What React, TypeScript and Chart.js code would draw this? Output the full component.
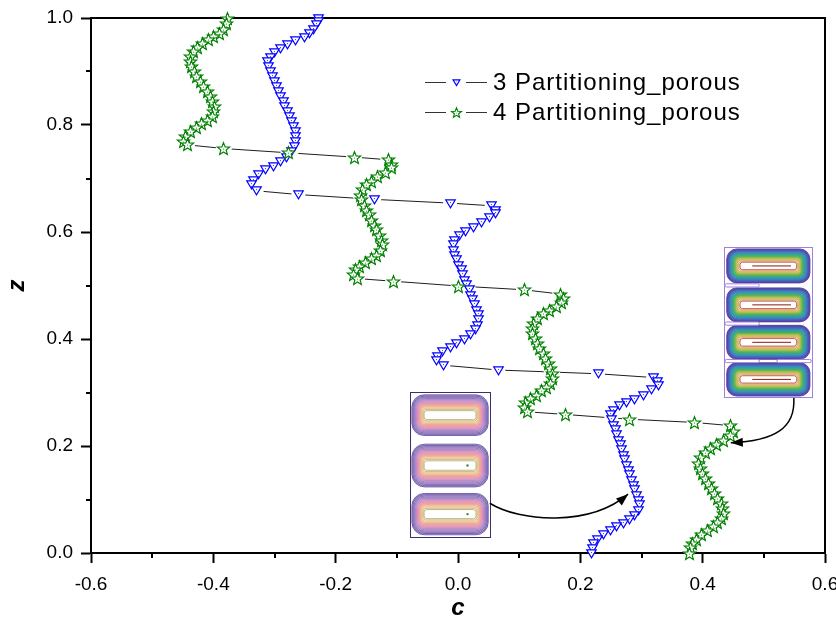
import { useEffect, useRef } from "react";
import { Chart, registerables } from "chart.js";

Chart.register(...registerables);

type Pt = [number, number]; // [c, z]

// ---- 3 Partitioning_porous ----
const p3Upper: Pt[] = [
  [-0.228, 1.0], [-0.228, 0.993], [-0.231, 0.987], [-0.236, 0.978], [-0.242, 0.971],
  [-0.251, 0.964], [-0.265, 0.958], [-0.279, 0.951], [-0.291, 0.943], [-0.3, 0.935],
  [-0.307, 0.927], [-0.311, 0.918], [-0.31, 0.909], [-0.307, 0.9], [-0.304, 0.89],
  [-0.3, 0.881], [-0.297, 0.872], [-0.293, 0.862], [-0.29, 0.853], [-0.286, 0.844],
  [-0.283, 0.834], [-0.279, 0.825], [-0.275, 0.816], [-0.272, 0.806], [-0.269, 0.797],
  [-0.266, 0.787], [-0.265, 0.778], [-0.265, 0.769], [-0.268, 0.759], [-0.272, 0.75],
  [-0.28, 0.74], [-0.29, 0.731], [-0.302, 0.723], [-0.314, 0.716], [-0.326, 0.708],
  [-0.335, 0.697], [-0.337, 0.688], [-0.329, 0.677],
];
const p3StepA: Pt[] = [[-0.261, 0.67], [-0.137, 0.661], [-0.013, 0.654]];
const p3Middle: Pt[] = [
  [0.055, 0.649], [0.062, 0.641], [0.061, 0.635], [0.051, 0.627], [0.039, 0.617],
  [0.025, 0.609], [0.012, 0.601], [0.002, 0.593], [-0.005, 0.585], [-0.008, 0.576],
  [-0.008, 0.566], [-0.005, 0.557], [-0.002, 0.548], [0.001, 0.538], [0.005, 0.529],
  [0.008, 0.52], [0.011, 0.51], [0.014, 0.501], [0.018, 0.492], [0.021, 0.482],
  [0.024, 0.473], [0.027, 0.464], [0.031, 0.454], [0.033, 0.445], [0.034, 0.436],
  [0.032, 0.426], [0.028, 0.417], [0.021, 0.409], [0.01, 0.399], [-0.002, 0.392],
  [-0.013, 0.384], [-0.025, 0.376], [-0.034, 0.368], [-0.035, 0.359], [-0.024, 0.351],
];
const p3StepB: Pt[] = [[0.066, 0.342], [0.229, 0.335]];
const p3Lower: Pt[] = [
  [0.319, 0.328], [0.326, 0.32], [0.327, 0.314], [0.317, 0.305], [0.304, 0.295],
  [0.289, 0.287], [0.276, 0.281], [0.264, 0.275], [0.254, 0.267], [0.25, 0.258],
  [0.251, 0.249], [0.254, 0.239], [0.257, 0.23], [0.259, 0.221], [0.262, 0.211],
  [0.265, 0.202], [0.268, 0.193], [0.27, 0.183], [0.273, 0.174], [0.276, 0.164],
  [0.278, 0.155], [0.281, 0.146], [0.284, 0.136], [0.287, 0.127], [0.289, 0.118],
  [0.292, 0.108], [0.295, 0.099], [0.296, 0.09], [0.295, 0.08], [0.289, 0.071],
  [0.281, 0.062], [0.27, 0.056], [0.259, 0.049], [0.249, 0.042], [0.238, 0.034],
  [0.228, 0.026], [0.222, 0.017], [0.22, 0.009], [0.219, 0.0],
];

// ---- 4 Partitioning_porous ----
const p4First: Pt[] = [
  [-0.377, 1.0], [-0.379, 0.989], [-0.383, 0.979], [-0.39, 0.971], [-0.399, 0.965],
  [-0.408, 0.959], [-0.417, 0.953], [-0.426, 0.945], [-0.432, 0.937], [-0.437, 0.928],
  [-0.438, 0.918], [-0.435, 0.909], [-0.431, 0.9], [-0.427, 0.89], [-0.421, 0.881],
  [-0.416, 0.872], [-0.41, 0.862], [-0.405, 0.853], [-0.401, 0.844], [-0.398, 0.834],
  [-0.399, 0.825], [-0.402, 0.816], [-0.409, 0.808], [-0.419, 0.802], [-0.428, 0.796],
  [-0.438, 0.787], [-0.446, 0.778], [-0.449, 0.769], [-0.443, 0.763],
];
const p4StepA: Pt[] = [[-0.383, 0.756], [-0.277, 0.748], [-0.17, 0.74]];
const p4Second: Pt[] = [
  [-0.114, 0.735], [-0.108, 0.727], [-0.109, 0.72], [-0.119, 0.712], [-0.131, 0.704],
  [-0.141, 0.694], [-0.149, 0.688], [-0.156, 0.679], [-0.159, 0.669], [-0.157, 0.66],
  [-0.153, 0.65], [-0.149, 0.641], [-0.145, 0.632], [-0.141, 0.622], [-0.137, 0.613],
  [-0.133, 0.604], [-0.128, 0.594], [-0.125, 0.585], [-0.124, 0.576], [-0.127, 0.566],
  [-0.134, 0.557], [-0.142, 0.55], [-0.152, 0.543], [-0.161, 0.536], [-0.168, 0.529],
  [-0.171, 0.52], [-0.165, 0.513],
];
const p4StepB: Pt[] = [[-0.106, 0.508], [0.001, 0.499], [0.108, 0.492]];
const p4Third: Pt[] = [
  [0.167, 0.484], [0.172, 0.476], [0.17, 0.468], [0.161, 0.46], [0.15, 0.453],
  [0.14, 0.447], [0.13, 0.439], [0.123, 0.429], [0.121, 0.42], [0.122, 0.411],
  [0.126, 0.401], [0.13, 0.392], [0.134, 0.383], [0.139, 0.373], [0.143, 0.364],
  [0.148, 0.355], [0.152, 0.345], [0.154, 0.336], [0.155, 0.327], [0.152, 0.317],
  [0.145, 0.31], [0.137, 0.303], [0.128, 0.295], [0.119, 0.289], [0.111, 0.281],
  [0.108, 0.272], [0.113, 0.264],
];
const p4StepC: Pt[] = [[0.175, 0.259], [0.281, 0.25], [0.387, 0.244]];
const p4Fourth: Pt[] = [
  [0.446, 0.238], [0.45, 0.228], [0.445, 0.219], [0.434, 0.211], [0.423, 0.203],
  [0.412, 0.196], [0.404, 0.187], [0.397, 0.178], [0.394, 0.168], [0.397, 0.158],
  [0.4, 0.149], [0.404, 0.14], [0.409, 0.13], [0.415, 0.121], [0.42, 0.112],
  [0.425, 0.102], [0.43, 0.093], [0.433, 0.084], [0.434, 0.074], [0.431, 0.065],
  [0.425, 0.057], [0.417, 0.049], [0.408, 0.042], [0.398, 0.034], [0.39, 0.026],
  [0.384, 0.018], [0.38, 0.01], [0.379, 0.0],
];

const xTickValues = [-0.6, -0.4, -0.2, 0, 0.2, 0.4, 0.6];
const xMinorValues = [-0.5, -0.3, -0.1, 0.1, 0.3, 0.5];
const yTickValues = [0, 0.2, 0.4, 0.6, 0.8, 1.0];
const yMinorValues = [0.1, 0.3, 0.5, 0.7, 0.9];
const seriesLabels = ["3 Partitioning_porous", "4 Partitioning_porous"];
const xTitle = "c";
const yTitle = "z";

const FONT = "'Liberation Sans', Arial, Helvetica, sans-serif";

// Inset flow-field pictures, placed in axis units
const leftInset = { c0: -0.078, c1: 0.052, z0: 0.301, z1: 0.03 };
const rightInset = { c0: 0.435, c1: 0.579, z0: 0.572, z1: 0.292 };

// contour levels, outermost first: [line colour, fill strength]
const warmLevels: [string, number][] = [
  ["#5a4898", 0.45], ["#6a52a6", 0.48], ["#7b5eb2", 0.5], ["#8e6cbb", 0.54], ["#a478c0", 0.58],
  ["#bb82bf", 0.62], ["#d088b6", 0.66], ["#e48ea8", 0.7], ["#f0969a", 0.72], ["#f4a28a", 0.62],
  ["#eab27c", 0.3], ["#d6b872", 0.1], ["#c2b06a", 0.04],
];
const coolLevels: [string, number][] = [
  ["#4a2f90", 0.8], ["#4540a8", 0.8], ["#3b57b8", 0.8], ["#3270bb", 0.8], ["#2a88b0", 0.8],
  ["#27999a", 0.8], ["#2fa27a", 0.8], ["#46a954", 0.8], ["#6db244", 0.8], ["#9bbb45", 0.78],
  ["#c2bd52", 0.7], ["#d7ad5c", 0.45], ["#e09a66", 0.15],
];

const toPts = (arr: Pt[]) => arr.map(([c, z]) => ({ x: c, y: z }));
const series3 = toPts([...p3Upper, ...p3StepA, ...p3Middle, ...p3StepB, ...p3Lower]);
const series4 = toPts([...p4First, ...p4StepA, ...p4Second, ...p4StepB, ...p4Third, ...p4StepC, ...p4Fourth]);

function tint(hex: string, t: number) {
  const n = parseInt(hex.slice(1), 16);
  const r = (n >> 16) & 255, g = (n >> 8) & 255, b = n & 255;
  const m = (v: number) => Math.round(255 - (255 - v) * t);
  return `rgb(${m(r)},${m(g)},${m(b)})`;
}

function roundedPath(ctx: CanvasRenderingContext2D, x: number, y: number, w: number, h: number, r: number) {
  const rr = Math.max(0, Math.min(r, w / 2, h / 2));
  ctx.beginPath();
  ctx.moveTo(x + rr, y);
  ctx.lineTo(x + w - rr, y);
  ctx.arcTo(x + w, y, x + w, y + rr, rr);
  ctx.lineTo(x + w, y + h - rr);
  ctx.arcTo(x + w, y + h, x + w - rr, y + h, rr);
  ctx.lineTo(x + rr, y + h);
  ctx.arcTo(x, y + h, x, y + h - rr, rr);
  ctx.lineTo(x, y + rr);
  ctx.arcTo(x, y, x + rr, y, rr);
  ctx.closePath();
}

function contourCell(
  ctx: CanvasRenderingContext2D, x: number, y: number, w: number, h: number,
  levels: [string, number][], coreColor: string,
) {
  const n = levels.length;
  const wi = w * 0.68, hi = h * 0.22;
  const dx = (w - wi) / 2 / n, dy = (h - hi) / 2 / n;
  for (let i = 0; i <= n; i++) {
    const xx = x + i * dx, yy = y + i * dy, ww = w - 2 * i * dx, hh = h - 2 * i * dy;
    const r = Math.max(2.5, h * 0.3 - i * dy * 0.7);
    roundedPath(ctx, xx, yy, ww, hh, r);
    if (i < n) {
      ctx.fillStyle = tint(levels[i][0], levels[i][1]);
      ctx.fill();
      ctx.strokeStyle = levels[i][0];
    } else {
      ctx.fillStyle = "#fff";
      ctx.fill();
      ctx.strokeStyle = coreColor;
    }
    ctx.lineWidth = 0.8;
    ctx.stroke();
  }
}

function arrow(ctx: CanvasRenderingContext2D, p: number[][]) {
  const [a, b, c, d] = p;
  ctx.beginPath();
  ctx.moveTo(a[0], a[1]);
  ctx.bezierCurveTo(b[0], b[1], c[0], c[1], d[0], d[1]);
  ctx.strokeStyle = "#000";
  ctx.lineWidth = 1.5;
  ctx.stroke();
  const ang = Math.atan2(d[1] - c[1], d[0] - c[0]);
  const L = 12, W = 4.5;
  ctx.beginPath();
  ctx.moveTo(d[0], d[1]);
  ctx.lineTo(d[0] - L * Math.cos(ang) + W * Math.sin(ang), d[1] - L * Math.sin(ang) - W * Math.cos(ang));
  ctx.lineTo(d[0] - L * Math.cos(ang) - W * Math.sin(ang), d[1] - L * Math.sin(ang) + W * Math.cos(ang));
  ctx.closePath();
  ctx.fillStyle = "#000";
  ctx.fill();
}

function triangleMarker(scale: number) {
  const s = Math.ceil(14 * scale) | 1;
  const cv = document.createElement("canvas");
  cv.width = s; cv.height = s;
  const g = cv.getContext("2d")!;
  const c = s / 2;
  const hw = 4.8 * scale, top = 3.7 * scale, bot = 4.4 * scale;
  g.beginPath();
  g.moveTo(c - hw, c - top);
  g.lineTo(c + hw, c - top);
  g.lineTo(c, c + bot);
  g.closePath();
  g.fillStyle = "#fff";
  g.fill();
  g.strokeStyle = "#0000ff";
  g.lineWidth = 1.15;
  g.stroke();
  g.fillStyle = "#3030ff";
  g.beginPath();
  g.arc(c, c - 0.9 * scale, 0.6 * scale, 0, Math.PI * 2);
  g.fill();
  return cv;
}

function starMarker(scale: number) {
  const s = Math.ceil(16 * scale) | 1;
  const cv = document.createElement("canvas");
  cv.width = s; cv.height = s;
  const g = cv.getContext("2d")!;
  const c = s / 2;
  const R = 6.5 * scale, r = 2.8 * scale;
  g.beginPath();
  for (let k = 0; k < 10; k++) {
    const ang = -Math.PI / 2 + (k * Math.PI) / 5;
    const rad = k % 2 ? r : R;
    const px = c + rad * Math.cos(ang), py = c + 0.6 + rad * Math.sin(ang);
    if (k === 0) g.moveTo(px, py); else g.lineTo(px, py);
  }
  g.closePath();
  g.fillStyle = "#fff";
  g.fill();
  g.strokeStyle = "#008000";
  g.lineWidth = 1.15;
  g.stroke();
  g.fillStyle = "#2a9a2a";
  g.beginPath();
  g.arc(c, c + 0.6, 0.6 * scale, 0, Math.PI * 2);
  g.fill();
  return cv;
}

const fmt = (v: number) => (Math.abs(v) < 1e-9 ? "0.0" : Number(v).toFixed(1));

export default function App() {
  const ref = useRef<HTMLCanvasElement | null>(null);

  useEffect(() => {
    if (!ref.current) return;
    const tri = triangleMarker(1);
    const star = starMarker(1);
    const triSmall = triangleMarker(0.72);
    const starSmall = starMarker(0.8);

    const framePlugin = {
      id: "frame",
      beforeDatasetsDraw(chart: any) {
        const { ctx, chartArea: a, scales } = chart;
        ctx.save();
        ctx.strokeStyle = "#000";
        ctx.lineWidth = 2;
        ctx.beginPath();
        ctx.moveTo(a.left, a.top);
        ctx.lineTo(a.right, a.top);
        ctx.lineTo(a.right, a.bottom);
        ctx.stroke();
        ctx.beginPath();
        for (const v of xMinorValues) {
          const x = Math.round(scales.x.getPixelForValue(v));
          ctx.moveTo(x, a.bottom);
          ctx.lineTo(x, a.bottom + 5);
        }
        for (const v of yMinorValues) {
          const y = Math.round(scales.y.getPixelForValue(v));
          ctx.moveTo(a.left, y);
          ctx.lineTo(a.left - 5, y);
        }
        ctx.stroke();
        ctx.restore();
        // crisp marker bitmaps
        ctx.imageSmoothingEnabled = false;
      },
    };

    const decorPlugin = {
      id: "decor",
      afterDatasetsDraw(chart: any) {
        const { ctx, scales } = chart;
        ctx.imageSmoothingEnabled = true;
        const X = (c: number) => scales.x.getPixelForValue(c);
        const Y = (z: number) => scales.y.getPixelForValue(z);
        ctx.save();

        // left inset: three cells
        {
          const x0 = X(leftInset.c0), x1 = X(leftInset.c1), y0 = Y(leftInset.z0), y1 = Y(leftInset.z1);
          const w = x1 - x0, h = y1 - y0;
          ctx.fillStyle = "#fff";
          ctx.fillRect(x0, y0, w, h);
          const rows = [[0.02, 0.3], [0.36, 0.655], [0.7, 0.985]];
          for (const [a, b] of rows) {
            contourCell(ctx, x0 + w * 0.02, y0 + h * a, w * 0.96, h * (b - a), warmLevels, "#b8a060");
          }
          ctx.fillStyle = "#3c8a3c";
          for (const [a, b] of rows.slice(1)) {
            ctx.beginPath();
            ctx.arc(x0 + w * 0.72, y0 + h * (a + b) / 2, 1.2, 0, Math.PI * 2);
            ctx.fill();
          }
          ctx.strokeStyle = "#3c2f6e";
          ctx.lineWidth = 1;
          ctx.strokeRect(Math.round(x0) + 0.5, Math.round(y0) + 0.5, Math.round(w), Math.round(h));
        }

        // right inset: four cells
        {
          const x0 = X(rightInset.c0), x1 = X(rightInset.c1), y0 = Y(rightInset.z0), y1 = Y(rightInset.z1);
          const w = x1 - x0, h = y1 - y0;
          ctx.fillStyle = "#fff";
          ctx.fillRect(x0, y0, w, h);
          const rows = [[0.013, 0.24], [0.273, 0.5], [0.523, 0.75], [0.773, 0.995]];
          for (const [a, b] of rows) {
            contourCell(ctx, x0 + w * 0.03, y0 + h * a, w * 0.945, h * (b - a), coolLevels, "#b04028");
            const cy = y0 + h * (a + b) / 2;
            ctx.strokeStyle = "#8a1a10";
            ctx.lineWidth = 1;
            ctx.beginPath();
            ctx.moveTo(x0 + w * 0.32, cy);
            ctx.lineTo(x0 + w * 0.76, cy);
            ctx.stroke();
          }
          ctx.strokeStyle = "#9f7fe0";
          ctx.lineWidth = 1;
          const notch = (fa: number, fb: number, fy: number) => {
            roundedPath(ctx, x0 + w * fa, y0 + h * fy - 1.6, w * (fb - fa), 3.2, 1.6);
            ctx.fillStyle = "#fff";
            ctx.fill();
            ctx.stroke();
          };
          notch(0.01, 0.4, 0.2565);
          notch(0.01, 0.4, 0.5115);
          notch(0.01, 0.4, 0.7615);
          notch(0.6, 0.99, 0.7615);
          ctx.strokeRect(Math.round(x0) + 0.5, Math.round(y0) + 0.5, Math.round(w), Math.round(h));
        }

        // pointers from the insets to the profiles
        arrow(ctx, [[X(0.052), Y(0.093)], [X(0.101), Y(0.058)], [X(0.216), Y(0.049)], [X(0.278), Y(0.11)]]);
        arrow(ctx, [[X(0.549), Y(0.29)], [X(0.552), Y(0.234)], [X(0.518), Y(0.209)], [X(0.446), Y(0.206)]]);
        ctx.restore();
      },
      afterDraw(chart: any) {
        const { ctx, chartArea: a } = chart;
        ctx.save();
        ctx.imageSmoothingEnabled = true;
        // legend
        const rows = [
          { label: seriesLabels[0], img: triSmall, y: 82 },
          { label: seriesLabels[1], img: starSmall, y: 112 },
        ];
        for (const r of rows) {
          ctx.strokeStyle = "#333";
          ctx.lineWidth = 1;
          ctx.beginPath();
          ctx.moveTo(425, r.y + 0.5);
          ctx.lineTo(446, r.y + 0.5);
          ctx.moveTo(466, r.y + 0.5);
          ctx.lineTo(487, r.y + 0.5);
          ctx.stroke();
          ctx.drawImage(r.img, 456 - Math.floor(r.img.width / 2), r.y - Math.floor(r.img.height / 2));
          ctx.fillStyle = "#000";
          ctx.font = `24px ${FONT}`;
          (ctx as any).letterSpacing = "1px";
          ctx.textAlign = "left";
          ctx.textBaseline = "middle";
          ctx.fillText(r.label, 493, r.y + 1);
          (ctx as any).letterSpacing = "0px";
        }
        // axis titles
        ctx.font = `italic bold 24px ${FONT}`;
        ctx.textAlign = "center";
        ctx.textBaseline = "middle";
        ctx.fillText(xTitle, (a.left + a.right) / 2, 608);
        ctx.translate(17, (a.top + a.bottom) / 2);
        ctx.rotate(-Math.PI / 2);
        ctx.fillText(yTitle, 0, 0);
        ctx.restore();
      },
    };

    const tickFont = { family: FONT, size: 19 };
    const chart = new Chart(ref.current, {
      type: "scatter",
      data: {
        datasets: [
          { data: series4, showLine: false, pointStyle: star as any, pointRadius: 6, order: 0, clip: false as any },
          { data: series3, showLine: false, pointStyle: tri as any, pointRadius: 5, order: 1, clip: false as any },
          { data: series4, showLine: false, pointStyle: "circle", pointRadius: 8, pointBackgroundColor: "#fff", pointBorderColor: "#fff", pointBorderWidth: 0, order: 2, clip: -2 as any },
          { data: series3, showLine: false, pointStyle: "circle", pointRadius: 7, pointBackgroundColor: "#fff", pointBorderColor: "#fff", pointBorderWidth: 0, order: 2, clip: -2 as any },
          { data: series4, showLine: true, borderColor: "#1e1e1e", borderWidth: 1, pointRadius: 0, order: 3 },
          { data: series3, showLine: true, borderColor: "#1e1e1e", borderWidth: 1, pointRadius: 0, order: 3 },
        ],
      },
      options: {
        animation: false,
        responsive: false,
        events: [],
        layout: { padding: { top: 18, right: 11, left: 0, bottom: 0 } },
        plugins: { legend: { display: false }, tooltip: { enabled: false } },
        scales: {
          x: {
            type: "linear",
            min: -0.6,
            max: 0.6,
            afterBuildTicks: (s: any) => { s.ticks = xTickValues.map((value) => ({ value })); },
            afterFit: (s: any) => { s.height = 80; s.paddingLeft = 0; s.paddingRight = 0; },
            ticks: { callback: (v: any) => fmt(Number(v)), font: tickFont, color: "#000", padding: 10, maxRotation: 0, autoSkip: false },
            grid: { drawOnChartArea: false, drawTicks: true, tickLength: 10, tickWidth: 2, tickColor: "#000", color: "#000" },
            border: { display: true, color: "#000", width: 2 },
          },
          y: {
            type: "linear",
            min: 0,
            max: 1,
            afterBuildTicks: (s: any) => { s.ticks = yTickValues.map((value) => ({ value })); },
            afterFit: (s: any) => { s.width = 91; s.paddingTop = 0; s.paddingBottom = 0; },
            ticks: { callback: (v: any) => fmt(Number(v)), font: tickFont, color: "#000", padding: 8, autoSkip: false },
            grid: { drawOnChartArea: false, drawTicks: true, tickLength: 10, tickWidth: 2, tickColor: "#000", color: "#000" },
            border: { display: true, color: "#000", width: 2 },
          },
        },
      } as any,
      plugins: [framePlugin, decorPlugin],
    });
    return () => chart.destroy();
  }, []);

  return (
    <div style={{ position: "fixed", left: 0, top: 0, width: 836, height: 633, background: "#fff" }}>
      <canvas ref={ref} width={836} height={633} style={{ display: "block" }} />
    </div>
  );
}
